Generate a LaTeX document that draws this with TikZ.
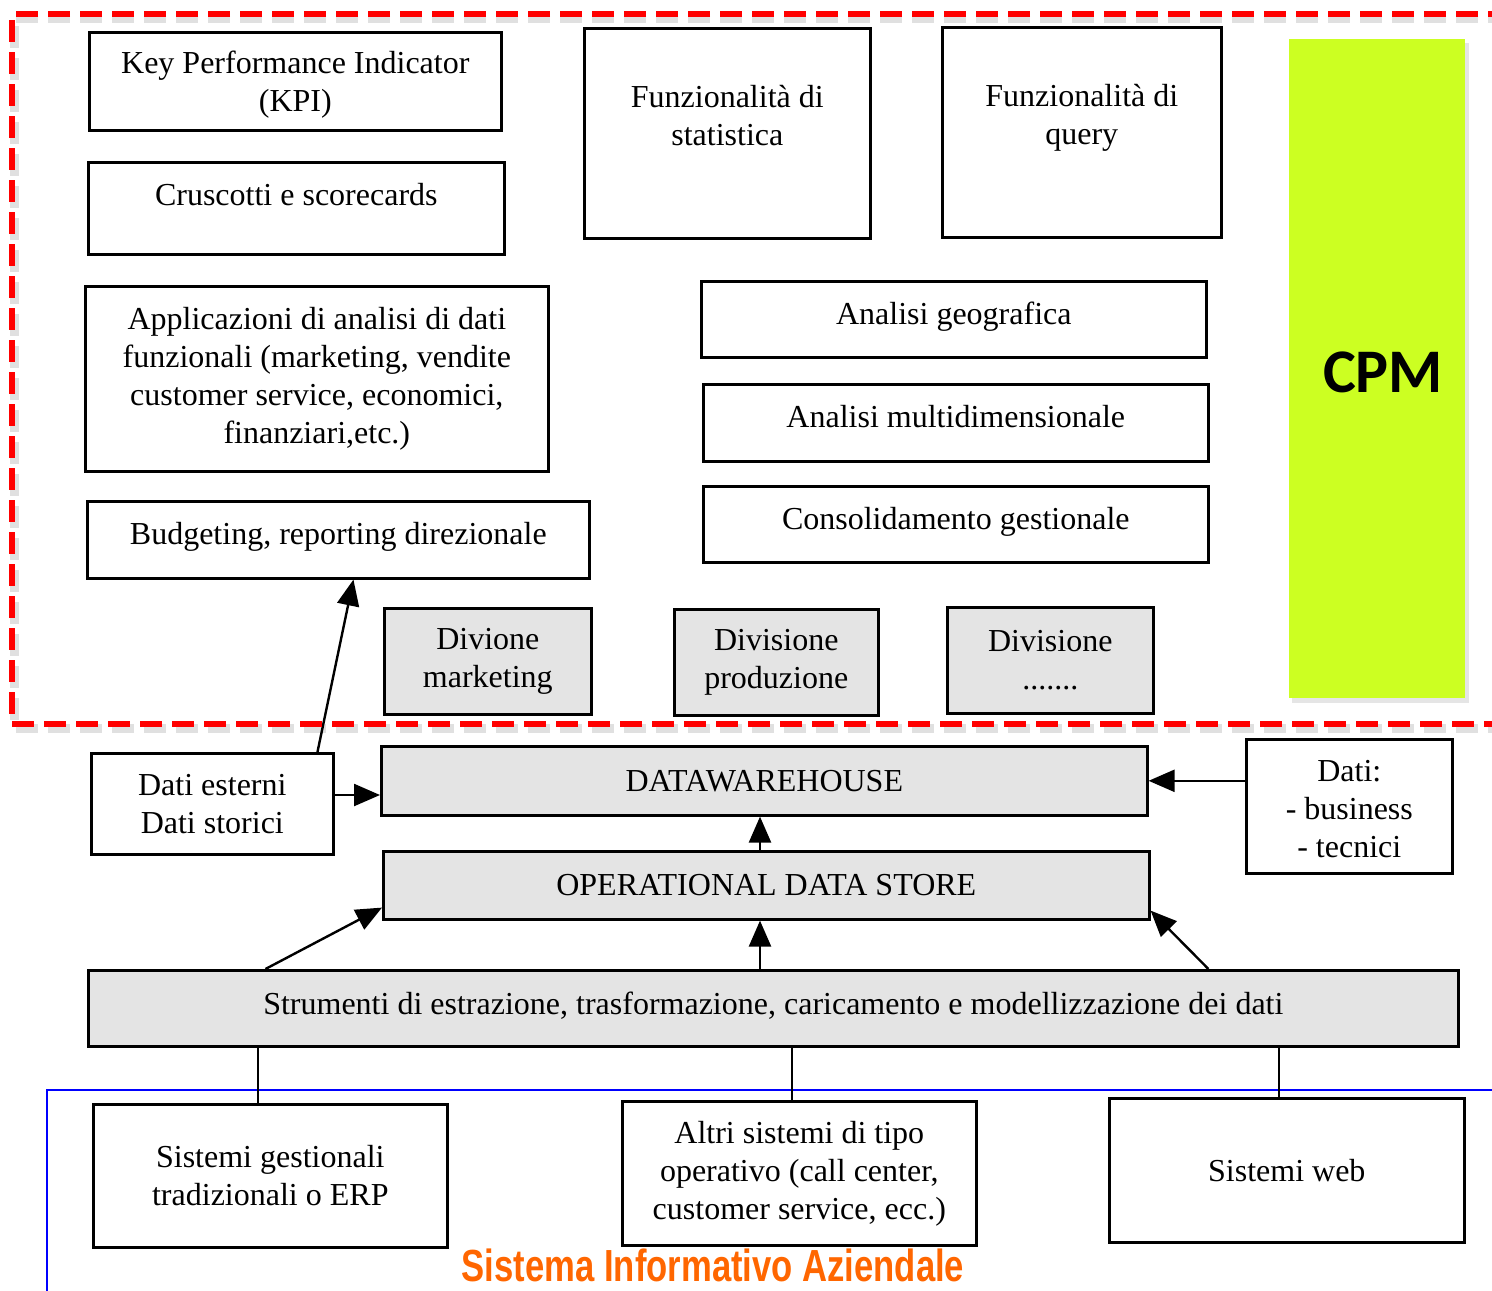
\documentclass[tikz,border=0pt]{standalone}
\usepackage{fontspec}
\setmainfont{Liberation Serif}
\newfontfamily\cpmfont{Carlito}
\newfontfamily\siafont[FakeStretch=0.77]{Liberation Sans}
\usetikzlibrary{arrows.meta,calc}
\definecolor{boxgray}{HTML}{E4E4E4}
\definecolor{cpmgreen}{HTML}{CCFF22}
\definecolor{sysorange}{HTML}{FF6600}
\definecolor{framered}{HTML}{FF0000}
\definecolor{frameblue}{HTML}{0000FF}
% text raised inside a box without changing the box size
\newcommand\liftbox[2]{\raisebox{#1}[0pt][0pt]{\begin{tabular}{@{}c@{}}#2\end{tabular}}}

\begin{document}
\begin{tikzpicture}[x=1pt,y=-1pt,
  box/.style={draw=black, line width=2.6pt, fill=white, anchor=north west,
    inner sep=0pt, align=center, font=\fontsize{32}{38}\selectfont},
  graybox/.style={box, fill=boxgray},
  arr/.style={line width=2.4pt, -{Triangle[length=26pt,width=22pt]}},
  link/.style={line width=2.4pt},
  redframe/.style={draw=framered, line width=6.5pt, dash pattern=on 22pt off 10pt},
]
\useasboundingbox (0,0) rectangle (1492,1291);

% company information system frame
\draw[frameblue, line width=1.6pt] (1500,1090) -- (47,1090) -- (47,1300);

% CPM column
\fill[black, opacity=0.10] (1292,43) rectangle (1469,703);
\fill[cpmgreen] (1289,39) rectangle (1465,698);
\node[font=\cpmfont\bfseries\fontsize{62}{70}\selectfont] (cpm) at (1383,372) {CPM};

% upper area: analysis tools
\node[box, minimum width=412pt, minimum height=98pt] (kpi) at (88,31)
  {\liftbox{-10pt}{Key Performance Indicator\\(KPI)}};
\node[box, minimum width=416pt, minimum height=92pt] (crus) at (87,161)
  {\liftbox{4pt}{Cruscotti e scorecards}};
\node[box, minimum width=463pt, minimum height=185pt] (appl) at (84,285)
  {Applicazioni di analisi di dati\\funzionali (marketing, vendite\\customer service, economici,\\finanziari,etc.)};
\node[box, minimum width=502pt, minimum height=77pt] (budg) at (86,500)
  {\liftbox{-3.5pt}{Budgeting, reporting direzionale}};
\node[box, minimum width=286pt, minimum height=210pt] (stat) at (583,27)
  {\liftbox{8pt}{Funzionalità di\\statistica}};
\node[box, minimum width=279pt, minimum height=210pt] (query) at (941,26)
  {\liftbox{8pt}{Funzionalità di\\query}};
\node[box, minimum width=505pt, minimum height=76pt] (geo) at (700,280)
  {\liftbox{-4pt}{Analisi geografica}};
\node[box, minimum width=505pt, minimum height=77pt] (multi) at (702,383)
  {\liftbox{-3.5pt}{Analisi multidimensionale}};
\node[box, minimum width=505pt, minimum height=76pt] (cons) at (702,485)
  {\liftbox{-4pt}{Consolidamento gestionale}};

% divisions
\node[graybox, minimum width=207pt, minimum height=106pt] (dmkt) at (383,607)
  {Divione\\marketing};
\node[graybox, minimum width=204pt, minimum height=106pt] (dprod) at (673,608)
  {Divisione\\produzione};
\node[graybox, minimum width=206pt, minimum height=106pt] (ddots) at (946,606)
  {Divisione\\.......};

% data layer
\node[box, minimum width=242pt, minimum height=101pt] (dest) at (90,752)
  {Dati esterni\\Dati storici};
\node[graybox, minimum width=766pt, minimum height=69pt] (dw) at (380,745)
  {DATAWAREHOUSE};
\node[box, minimum width=206pt, minimum height=134pt] (dati) at (1245,738)
  {\liftbox{-12pt}{Dati:\\- business\\- tecnici}};
\node[graybox, minimum width=766pt, minimum height=68pt] (ods) at (382,850)
  {OPERATIONAL DATA STORE};
\node[graybox, minimum width=1370pt, minimum height=76pt] (str) at (87,969)
  {\liftbox{-5pt}{Strumenti di estrazione, trasformazione, caricamento e modellizzazione dei dati}};

% source systems
\node[box, minimum width=354pt, minimum height=143pt] (sg) at (92,1103)
  {Sistemi gestionali\\tradizionali o ERP};
\node[box, minimum width=354pt, minimum height=144pt] (altri) at (621,1100)
  {Altri sistemi di tipo\\operativo (call center,\\customer service, ecc.)};
\node[box, minimum width=355pt, minimum height=144pt] (web) at (1108,1097)
  {Sistemi web};

\node[anchor=base, inner sep=0pt, text=sysorange,
  font=\siafont\bfseries\fontsize{45}{48}\selectfont]
  (sia) at (713,1281) {Sistema Informativo Aziendale};

% connectors
\coordinate (vx) at (760,0);
\coordinate (hy) at (0,795);
\coordinate (l1) at (258,0);
\coordinate (l2) at (792,0);
\coordinate (l3) at (1279,0);

\draw[arr] (ods.north -| vx) -- (dw.south -| vx);
\draw[arr] (str.north -| vx) -- (ods.south -| vx);
\draw[arr] ($(str.north west)!0.13!(str.north east)$) -- ($(ods.south west)+(0,-13)$);
\draw[arr] ($(str.north west)!0.817!(str.north east)$) -- ($(ods.south east)+(0,-10)$);
\draw[arr] ($(dest.north west)!0.93!(dest.north east)$) -- ($(budg.south west)!0.53!(budg.south east)$);
\draw[arr] (dest.east |- hy) -- (dw.west |- hy);
\draw[arr] (dati.west |- dw.east) -- (dw.east);

\draw[link] (str.south -| l1) -- (sg.north -| l1);
\draw[link] (str.south -| l2) -- (altri.north -| l2);
\draw[link] (str.south -| l3) -- (web.north -| l3);

% CPM frame, open on the right
\begin{scope}
\clip (0,0) rectangle (1492,1291);
\draw[redframe, draw=black, opacity=0.12, line width=9pt] (1510,18) -- (14,18) -- (14,728) -- (1510,728);
\draw[redframe] (1510,14) -- (12,14) -- (12,724) -- (1510,724);
\end{scope}
\end{tikzpicture}
\end{document}
